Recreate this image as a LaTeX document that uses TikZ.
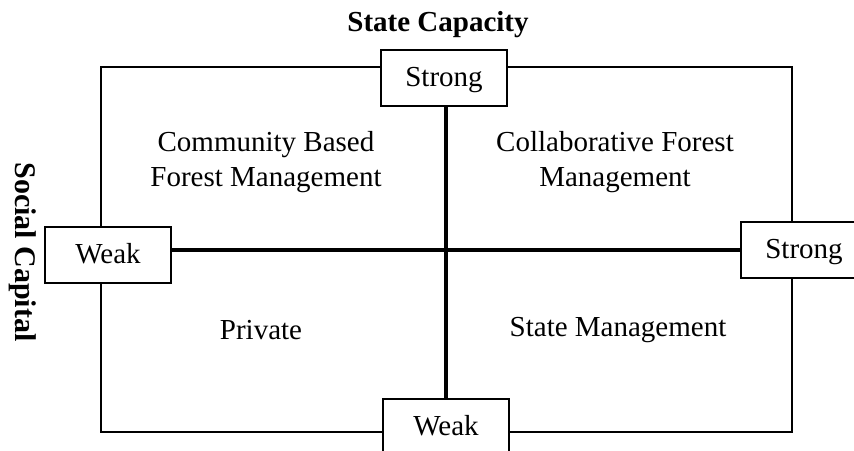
\documentclass[tikz,border=0pt]{standalone}
\usepackage{fontspec}
\setmainfont{Liberation Serif}
\begin{document}
\begin{tikzpicture}[x=1pt,y=-1pt,
  lbl/.style={font=\fontsize{29}{35}\selectfont, align=center, inner sep=0pt},
  endbox/.style={draw=black, line width=2pt, fill=white, minimum width=126pt, minimum height=56pt, inner sep=0pt, text height=21.5pt, text depth=4.5pt, font=\fontsize{29}{35}\selectfont},
  frame/.style={draw=black, line width=2pt},
  axis/.style={draw=black, line width=4.5pt}]
\useasboundingbox (0,0) rectangle (854,450);
\clip (0,0) rectangle (854,450);
\path[fill=white] (0,0) rectangle (854,450);
% outer frame
\draw[frame] (101,67) rectangle (792,432);
% end boxes
\node[endbox] (ts) at (444,78) {Strong};
\node[endbox] (bw) at (446,427) {Weak};
\node[endbox] (lw) at (108,255) {Weak};
\node[endbox] (rs) at (804,250) {Strong};
% axes
\draw[axis] (ts.south -| bw.north) -- (bw.north);
\draw[axis] (lw.east |- rs.west) -- (rs.west);
% titles
\node[lbl, font=\fontsize{29}{35}\selectfont\bfseries] (title) at (438,25) {State Capacity};
\node[lbl, rotate=-90, font=\fontsize{30}{35}\selectfont\bfseries] (side) at (23,252) {Social Capital};
% quadrant labels
\node[lbl] (q1) at (266,162) {Community Based\\Forest Management};
\node[lbl] (q2) at (615,162) {Collaborative Forest\\Management};
\node[lbl] (q3) at (261,330) {Private};
\node[lbl] (q4) at (618,330) {State Management};
\end{tikzpicture}
\end{document}
